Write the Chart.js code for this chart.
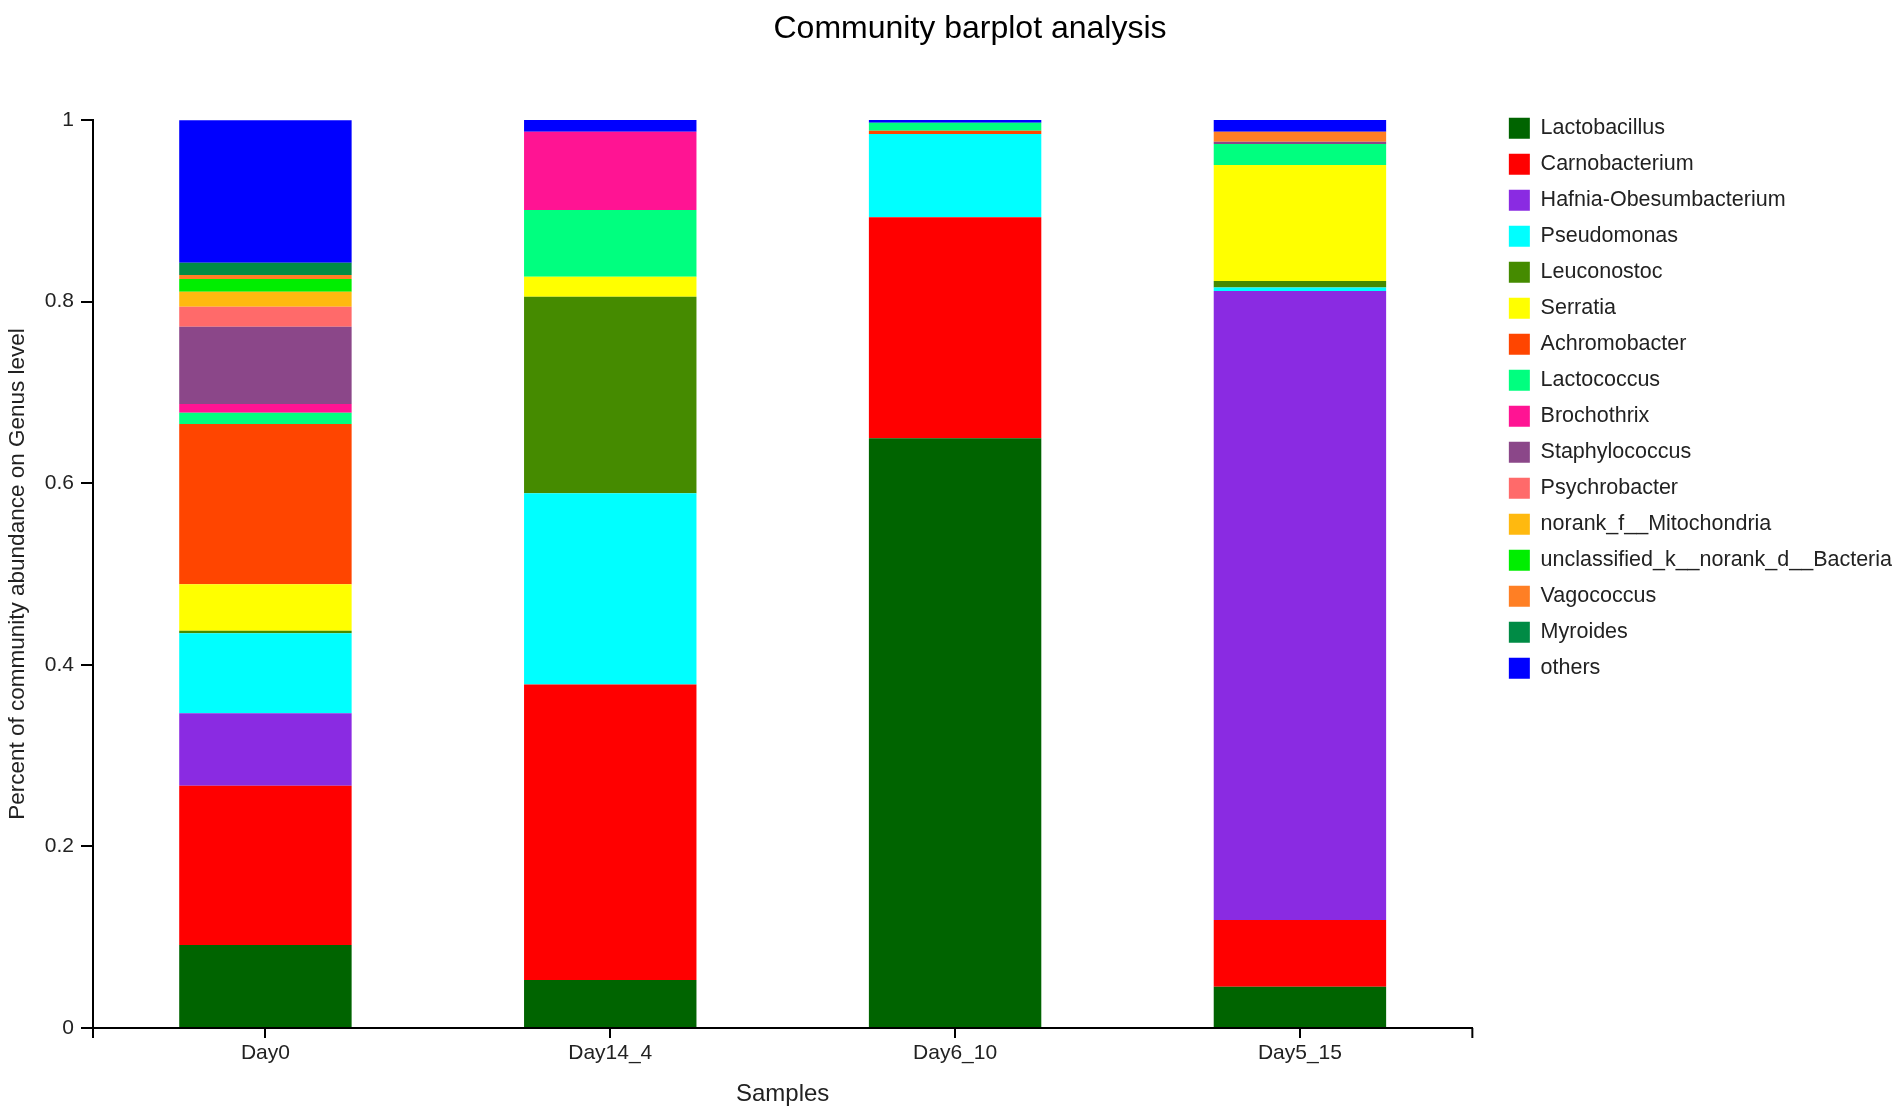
<!DOCTYPE html>
<html>
<head>
<meta charset="utf-8">
<script src="https://cdn.jsdelivr.net/npm/chart.js@4.4.1/dist/chart.umd.min.js"></script>
<style>
  html, body { margin: 0; padding: 0; background: #fff; overflow: hidden; }
  #wrap { position: relative; width: 1902px; height: 1117px; }
</style>
</head>
<body>
<div id="wrap"><canvas id="c"></canvas></div>
<script>
// ---- data ----
const samples = ['Day0', 'Day14_4', 'Day6_10', 'Day5_15'];
const yTickLabels = ['0', '0.2', '0.4', '0.6', '0.8', '1'];

const genera = [
  'Lactobacillus', 'Carnobacterium', 'Hafnia-Obesumbacterium', 'Pseudomonas',
  'Leuconostoc', 'Serratia', 'Achromobacter', 'Lactococcus', 'Brochothrix',
  'Staphylococcus', 'Psychrobacter', 'norank_f__Mitochondria',
  'unclassified_k__norank_d__Bacteria', 'Vagococcus', 'Myroides', 'others'
];

const lactobacillus  = [0.0914, 0.0529, 0.6494, 0.0455];
const carnobacterium = [0.1755, 0.3253, 0.2434, 0.0735];
const hafnia         = [0.0797, 0.0,    0.0,    0.6927];
const pseudomonas    = [0.0881, 0.2107, 0.0917, 0.0037];
const leuconostoc    = [0.0029, 0.2165, 0.0,    0.0073];
const serratia       = [0.0511, 0.0220, 0.0,    0.1278];
const achromobacter  = [0.1765, 0.0,    0.0036, 0.0];
const lactococcus    = [0.0124, 0.0735, 0.0088, 0.0231];
const brochothrix    = [0.0096, 0.0862, 0.0,    0.0];
const staphylococcus = [0.0851, 0.0,    0.0,    0.0025];
const psychrobacter  = [0.0220, 0.0,    0.0,    0.0];
const mitochondria   = [0.0165, 0.0,    0.0,    0.0];
const unclassified   = [0.0140, 0.0,    0.0,    0.0];
const vagococcus     = [0.0044, 0.0,    0.0,    0.0110];
const myroides       = [0.0135, 0.0,    0.0,    0.0];
const others         = [0.1570, 0.0129, 0.0030, 0.0129];

const seriesValues = [
  lactobacillus, carnobacterium, hafnia, pseudomonas, leuconostoc, serratia,
  achromobacter, lactococcus, brochothrix, staphylococcus, psychrobacter,
  mitochondria, unclassified, vagococcus, myroides, others
];

const colors = [
  '#006400', '#FF0000', '#8A2BE2', '#00FFFF', '#458B00', '#FFFF00',
  '#FF4500', '#00FF7F', '#FF1493', '#8B4789', '#FF6A6A', '#FFB90F',
  '#00EE00', '#FF7F24', '#008B45', '#0000FF'
];

// ---- chart ----
Chart.defaults.font.family = "'Liberation Sans', Arial, sans-serif";
Chart.defaults.color = '#222';

const datasets = genera.map((name, i) => ({
  label: name,
  data: seriesValues[i],
  backgroundColor: colors[i],
  borderWidth: 0,
  categoryPercentage: 1.0,
  barPercentage: 0.5
}));

const edgeTicks = {
  id: 'edgeTicks',
  afterDraw(chart) {
    const { ctx, chartArea } = chart;
    ctx.save();
    ctx.strokeStyle = '#000';
    ctx.lineWidth = 2;
    ctx.beginPath();
    ctx.moveTo(chartArea.left, chartArea.bottom);
    ctx.lineTo(chartArea.left, chartArea.bottom + 10);
    ctx.moveTo(chartArea.right, chartArea.bottom);
    ctx.lineTo(chartArea.right, chartArea.bottom + 10);
    ctx.stroke();
    ctx.restore();
  }
};

new Chart(document.getElementById('c'), {
  type: 'bar',
  data: { labels: samples, datasets },
  plugins: [edgeTicks],
  options: {
    responsive: true,
    maintainAspectRatio: false,
    animation: false,
    layout: { padding: { left: 38, right: 0, top: 0, bottom: 0 } },
    plugins: {
      tooltip: { enabled: false },
      title: {
        display: true,
        text: 'Community barplot analysis',
        color: '#000',
        font: { size: 32, weight: 'normal' },
        padding: { top: 10, bottom: 71.6 }
      },
      legend: {
        display: true,
        position: 'right',
        align: 'start',
        title: { display: true, text: '', font: { size: 10, lineHeight: 1 }, padding: { top: 93, bottom: 0 } },
        labels: {
          boxWidth: 21,
          boxHeight: 21,
          padding: 14.5,
          color: '#222',
          font: { size: 21.5 }
        }
      }
    },
    scales: {
      x: {
        stacked: true,
        z: 1,
        grid: { offset: false, drawOnChartArea: false, drawTicks: true, tickLength: 10, color: '#000', lineWidth: 2 },
        border: { display: true, color: '#000', width: 2 },
        ticks: { font: { size: 21 }, color: '#222', padding: 3, maxRotation: 0 },
        title: { display: true, text: 'Samples', color: '#222', font: { size: 24 }, padding: { top: 0, bottom: 8 } },
        afterFit: (s) => { s.height = 89; }
      },
      y: {
        stacked: true,
        min: 0,
        max: 1,
        grid: { drawOnChartArea: false, drawTicks: true, tickLength: 12, color: '#000', lineWidth: 2 },
        border: { display: true, color: '#000', width: 2 },
        ticks: {
          stepSize: 0.2,
          font: { size: 21 },
          color: '#222',
          padding: 7,
          callback: (v, i) => yTickLabels[i]
        },
        title: {
          display: true,
          text: 'Percent of community abundance on Genus level',
          color: '#222',
          font: { size: 22.5 },
          padding: { top: -34, bottom: 0 }
        },
        afterFit: (s) => { s.width = 55; }
      },
      yGap: {
        type: 'linear',
        position: 'right',
        display: false,
        afterFit: (s) => { s.width = 22; }
      }
    }
  }
});
</script>
</body>
</html>
